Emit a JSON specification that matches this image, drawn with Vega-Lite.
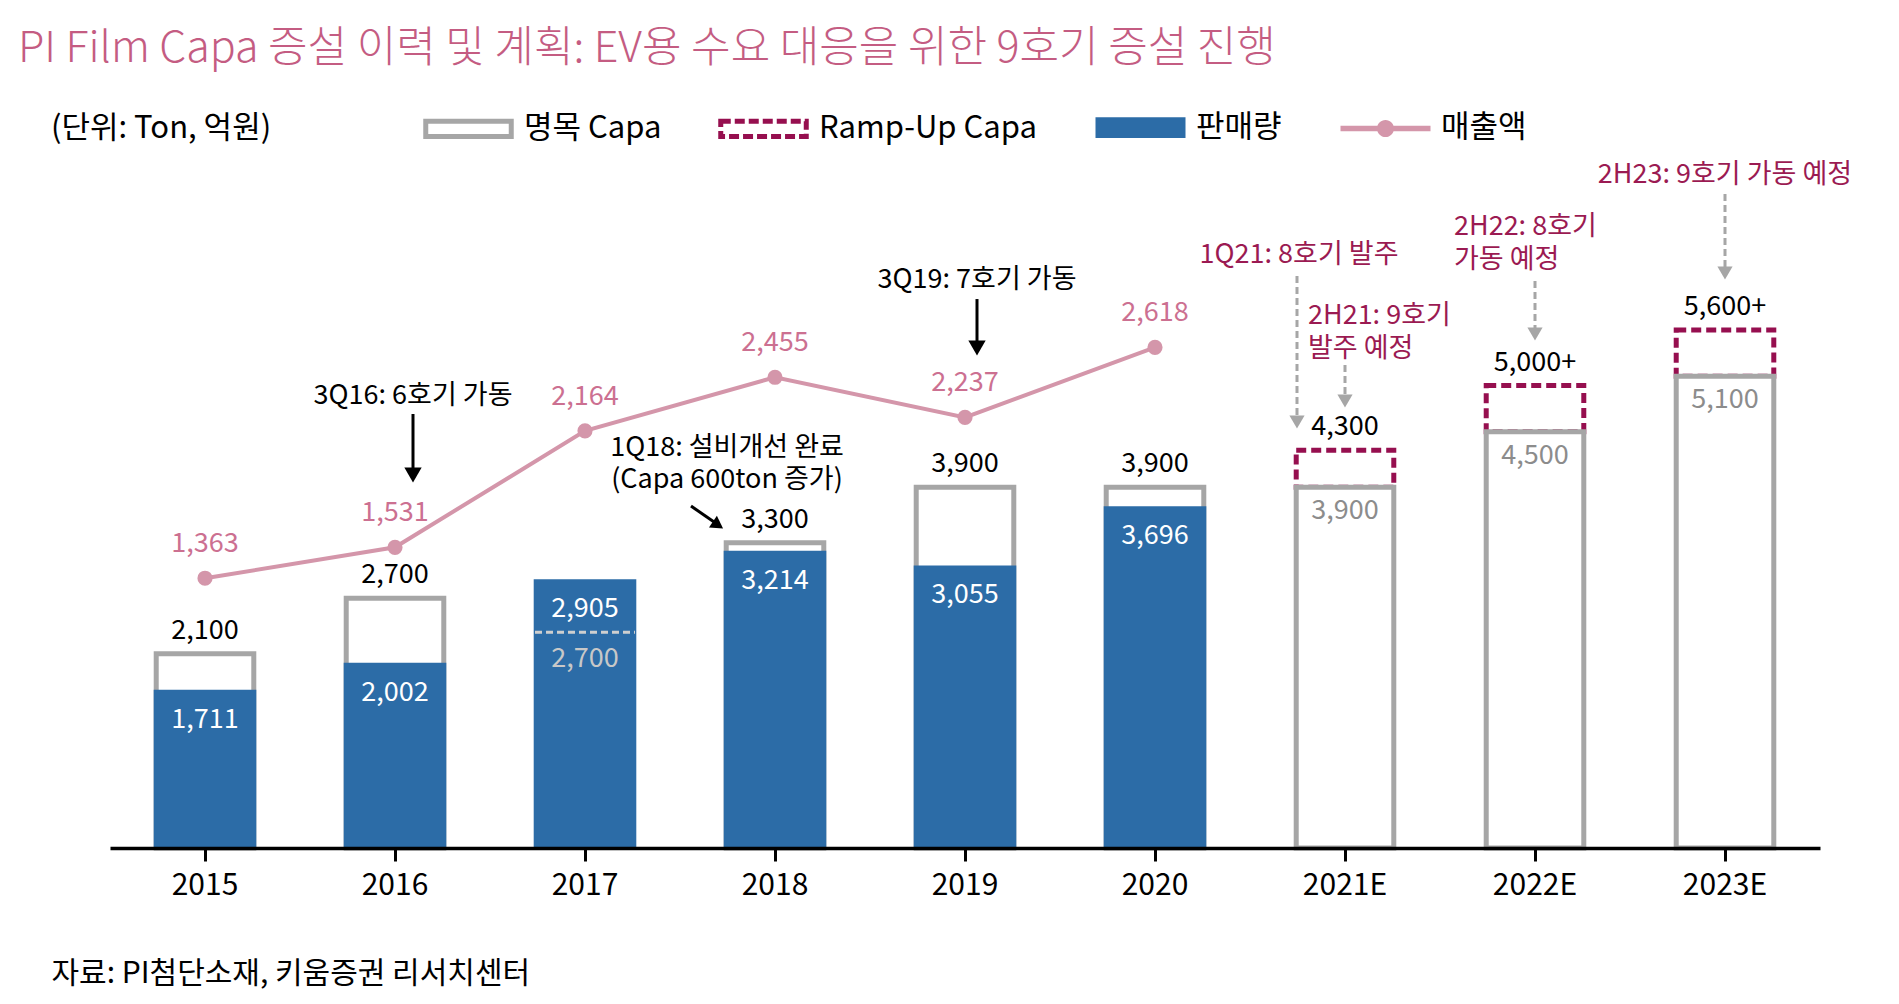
{
  "$schema": "https://vega.github.io/schema/vega-lite/v6.json",
  "width": 1710,
  "height": 700,
  "autosize": {"type": "none"},
  "padding": {"left": 110, "top": 148, "right": 79, "bottom": 156},
  "background": "white",
  "title": {
    "text": "PI Film Capa 증설 이력 및 계획: EV용 수요 대응을 위한 9호기 증설 진행",
    "anchor": "start",
    "frame": "group",
    "dx": -92,
    "offset": 9,
    "fontSize": 43,
    "fontWeight": 300,
    "color": "#c45c82"
  },
  "datasets": {
    "years": [
      {"year": "2015", "capa": 2100, "sales": 1711, "revenue": 1363},
      {"year": "2016", "capa": 2700, "sales": 2002, "revenue": 1531},
      {"year": "2017", "capa": 2700, "sales": 2905, "revenue": 2164},
      {"year": "2018", "capa": 3300, "sales": 3214, "revenue": 2455},
      {"year": "2019", "capa": 3900, "sales": 3055, "revenue": 2237},
      {"year": "2020", "capa": 3900, "sales": 3696, "revenue": 2618},
      {"year": "2021E", "capa": 3900, "ramp": 4300, "rampLabel": "4,300"},
      {"year": "2022E", "capa": 4500, "ramp": 5000, "rampLabel": "5,000+"},
      {"year": "2023E", "capa": 5100, "ramp": 5600, "rampLabel": "5,600+"}
    ]
  },
  "data": {"name": "years"},
  "encoding": {
    "x": {
      "field": "year",
      "type": "nominal",
      "scale": {
        "domain": ["2015", "2016", "2017", "2018", "2019", "2020", "2021E", "2022E", "2023E"],
        "paddingInner": 0.46,
        "paddingOuter": 0.23
      },
      "axis": {
        "title": "자료: PI첨단소재, 키움증권 리서치센터",
        "titleX": -59,
        "titleY": 125,
        "titleAlign": "left",
        "titleBaseline": "middle",
        "titleFontSize": 30,
        "titleFontWeight": "normal",
        "titleColor": "black",
        "labelAngle": 0,
        "labelFontSize": 30,
        "labelColor": "black",
        "labelPadding": 24,
        "labelBaseline": "middle",
        "domainColor": "black",
        "domainWidth": 3.5,
        "tickColor": "black",
        "tickWidth": 3,
        "tickSize": 13,
        "grid": false,
        "zindex": 1
      }
    }
  },
  "layer": [
    {
      "layer": [
        {
          "transform": [{"filter": "datum.ramp != null"}],
          "mark": {"type": "bar", "fill": "transparent", "stroke": "#960f4f", "strokeWidth": 5, "strokeDash": [10, 5], "width": {"band": 0.951}},
          "encoding": {
            "y": {"field": "ramp", "type": "quantitative", "scale": {"domain": [0, 7568], "nice": false}, "axis": null},
            "y2": {"field": "capa"}
          }
        },
        {
          "transform": [{"filter": "datum.sales == null || datum.capa >= datum.sales"}],
          "mark": {"type": "bar", "fill": "white", "stroke": "#a6a6a6", "strokeWidth": 5, "width": {"band": 0.951}},
          "encoding": {
            "y": {"field": "capa", "type": "quantitative", "scale": {"domain": [0, 7568], "nice": false}, "axis": null}
          }
        },
        {
          "transform": [{"filter": "datum.sales != null"}],
          "mark": {"type": "bar"},
          "encoding": {
            "y": {"field": "sales", "type": "quantitative", "scale": {"domain": [0, 7568], "nice": false}, "axis": null},
            "color": {
              "datum": "판매량",
              "type": "nominal",
              "scale": {
                "domain": ["명목 Capa", "Ramp-Up Capa", "판매량", "매출액"],
                "range": ["#a6a6a6", "#960f4f", "#2c6ca7", "#d496aa"]
              },
              "legend": {
                "orient": "none",
                "legendX": -59,
                "legendY": -68,
                "direction": "horizontal",
                "title": "(단위: Ton, 억원)",
                "titleOrient": "left",
                "titleFontSize": 31,
                "titleFontWeight": "normal",
                "titleColor": "black",
                "titlePadding": 149,
                "titleLimit": 400,
                "labelFontSize": 31,
                "labelColor": "black",
                "labelLimit": 400,
                "labelOffset": 8,
                "columnPadding": 48,
                "symbolSize": 8100,
                "symbolType": "M-1,-0.23H1V0.23H-1Z",
                "encode": {
                  "title": {
                    "update": {"dy": {"value": 15}}
                  },
                  "symbols": {
                    "update": {
                      "shape": [
                        {"test": "datum.value === '매출액'", "value": "M-1,-0.06H1V0.06H-1Z M0.19,0A0.19,0.19 0 1,1 -0.19,0A0.19,0.19 0 1,1 0.19,0Z"},
                        {"test": "datum.value === '판매량'", "value": "M-1,-0.23H1V0.23H-1Z"},
                        {"value": "M-0.95,-0.17H0.95V0.17H-0.95Z"}
                      ],
                      "fill": [
                        {"test": "datum.value === '판매량'", "value": "#2c6ca7"},
                        {"test": "datum.value === '매출액'", "value": "#d496aa"},
                        {"value": "transparent"}
                      ],
                      "fillOpacity": [
                        {"test": "datum.value === '명목 Capa' || datum.value === 'Ramp-Up Capa'", "value": 0},
                        {"value": 1}
                      ],
                      "stroke": [
                        {"test": "datum.value === '명목 Capa'", "value": "#a6a6a6"},
                        {"test": "datum.value === 'Ramp-Up Capa'", "value": "#960f4f"},
                        {"value": "transparent"}
                      ],
                      "strokeWidth": {"value": 5},
                      "strokeDash": [
                        {"test": "datum.value === 'Ramp-Up Capa'", "value": [10, 4]},
                        {"value": []}
                      ],
                      "opacity": {"value": 1}
                    }
                  }
                }
              }
            }
          }
        },
        {
          "transform": [{"filter": "datum.sales != null && datum.capa < datum.sales"}],
          "mark": {"type": "rule", "xOffset": -50, "x2Offset": 50, "yOffset": 34, "stroke": "#cfcfcf", "strokeWidth": 3, "strokeDash": [7, 4]},
          "encoding": {
            "x2": {"field": "year"},
            "y": {"field": "capa", "type": "quantitative", "scale": {"domain": [0, 7568], "nice": false}, "axis": null}
          }
        },
        {
          "transform": [{"filter": "datum.ramp == null && datum.capa >= datum.sales"}],
          "mark": {"type": "text", "fontSize": 27, "color": "black", "dy": -23, "baseline": "middle"},
          "encoding": {
            "y": {"field": "capa", "type": "quantitative", "scale": {"domain": [0, 7568], "nice": false}, "axis": null},
            "text": {"field": "capa", "type": "quantitative", "format": ","}
          }
        },
        {
          "transform": [{"filter": "datum.ramp != null"}],
          "mark": {"type": "text", "fontSize": 27, "color": "black", "dy": -23, "baseline": "middle"},
          "encoding": {
            "y": {"field": "ramp", "type": "quantitative", "scale": {"domain": [0, 7568], "nice": false}, "axis": null},
            "text": {"field": "rampLabel", "type": "nominal"}
          }
        },
        {
          "transform": [{"filter": "datum.sales != null"}],
          "mark": {"type": "text", "fontSize": 27, "color": "white", "dy": 30, "baseline": "middle"},
          "encoding": {
            "y": {"field": "sales", "type": "quantitative", "scale": {"domain": [0, 7568], "nice": false}, "axis": null},
            "text": {"field": "sales", "type": "quantitative", "format": ","}
          }
        },
        {
          "transform": [{"filter": "datum.ramp != null"}],
          "mark": {"type": "text", "fontSize": 27, "color": "#8c8c8c", "dy": 24, "baseline": "middle"},
          "encoding": {
            "y": {"field": "capa", "type": "quantitative", "scale": {"domain": [0, 7568], "nice": false}, "axis": null},
            "text": {"field": "capa", "type": "quantitative", "format": ","}
          }
        },
        {
          "transform": [{"filter": "datum.sales != null && datum.capa < datum.sales"}],
          "mark": {"type": "text", "fontSize": 27, "color": "#c8c8c8", "dy": 61, "baseline": "middle"},
          "encoding": {
            "y": {"field": "capa", "type": "quantitative", "scale": {"domain": [0, 7568], "nice": false}, "axis": null},
            "text": {"field": "capa", "type": "quantitative", "format": ","}
          }
        },
        {
          "data": {"values": [{"year": "2016", "note": "3Q16: 6호기 가동", "at": 4886, "from": 4692, "to": 3935}]},
          "layer": [
            {
              "mark": {"type": "text", "fontSize": 27, "color": "black", "dx": 18, "baseline": "middle"},
              "encoding": {
                "y": {"field": "at", "type": "quantitative", "scale": {"domain": [0, 7568], "nice": false}, "axis": null},
                "text": {"field": "note"}
              }
            },
            {
              "mark": {"type": "rule", "color": "black", "strokeWidth": 3, "xOffset": 18, "y2Offset": -10},
              "encoding": {
                "y": {"field": "from", "type": "quantitative", "scale": {"domain": [0, 7568], "nice": false}, "axis": null},
                "y2": {"field": "to"}
              }
            },
            {
              "mark": {"type": "point", "shape": "triangle-down", "filled": true, "color": "black", "opacity": 1, "size": 300, "xOffset": 18, "yOffset": -9},
              "encoding": {
                "y": {"field": "to", "type": "quantitative", "scale": {"domain": [0, 7568], "nice": false}, "axis": null}
              }
            }
          ]
        },
        {
          "data": {"values": [{"year": "2019", "note": "3Q19: 7호기 가동", "at": 6141, "from": 5935, "to": 5308}]},
          "layer": [
            {
              "mark": {"type": "text", "fontSize": 27, "color": "black", "dx": 12, "baseline": "middle"},
              "encoding": {
                "y": {"field": "at", "type": "quantitative", "scale": {"domain": [0, 7568], "nice": false}, "axis": null},
                "text": {"field": "note"}
              }
            },
            {
              "mark": {"type": "rule", "color": "black", "strokeWidth": 3, "xOffset": 12, "y2Offset": -10},
              "encoding": {
                "y": {"field": "from", "type": "quantitative", "scale": {"domain": [0, 7568], "nice": false}, "axis": null},
                "y2": {"field": "to"}
              }
            },
            {
              "mark": {"type": "point", "shape": "triangle-down", "filled": true, "color": "black", "opacity": 1, "size": 300, "xOffset": 12, "yOffset": -9},
              "encoding": {
                "y": {"field": "to", "type": "quantitative", "scale": {"domain": [0, 7568], "nice": false}, "axis": null}
              }
            }
          ]
        },
        {
          "data": {"values": [{"year": "2018", "note": "1Q18: 설비개선 완료\n(Capa 600ton 증가)", "at": 4324, "from": 3697, "to": 3503, "head": 3492}]},
          "layer": [
            {
              "mark": {"type": "text", "fontSize": 27, "color": "black", "dx": -48, "baseline": "middle", "lineBreak": "\n", "lineHeight": 32},
              "encoding": {
                "y": {"field": "at", "type": "quantitative", "scale": {"domain": [0, 7568], "nice": false}, "axis": null},
                "text": {"field": "note"}
              }
            },
            {
              "mark": {"type": "rule", "color": "black", "strokeWidth": 3, "xOffset": -84, "x2Offset": -58},
              "encoding": {
                "x2": {"field": "year"},
                "y": {"field": "from", "type": "quantitative", "scale": {"domain": [0, 7568], "nice": false}, "axis": null},
                "y2": {"field": "to"}
              }
            },
            {
              "mark": {"type": "point", "shape": "triangle-right", "angle": 34, "filled": true, "color": "black", "opacity": 1, "size": 200, "xOffset": -57},
              "encoding": {
                "y": {"field": "head", "type": "quantitative", "scale": {"domain": [0, 7568], "nice": false}, "axis": null}
              }
            }
          ]
        },
        {
          "data": {"values": [{"year": "2021E", "note": "1Q21: 8호기 발주", "at": 6411, "from": 6184, "to": 4519}]},
          "layer": [
            {
              "mark": {"type": "text", "fontSize": 27, "color": "#9b1a52", "dx": -46, "baseline": "middle"},
              "encoding": {
                "y": {"field": "at", "type": "quantitative", "scale": {"domain": [0, 7568], "nice": false}, "axis": null},
                "text": {"field": "note"}
              }
            },
            {
              "mark": {"type": "rule", "color": "#a6a6a6", "strokeWidth": 3, "strokeDash": [7, 4], "xOffset": -48, "y2Offset": -10},
              "encoding": {
                "y": {"field": "from", "type": "quantitative", "scale": {"domain": [0, 7568], "nice": false}, "axis": null},
                "y2": {"field": "to"}
              }
            },
            {
              "mark": {"type": "point", "shape": "triangle-down", "filled": true, "color": "#a6a6a6", "opacity": 1, "size": 230, "xOffset": -48, "yOffset": -8},
              "encoding": {
                "y": {"field": "to", "type": "quantitative", "scale": {"domain": [0, 7568], "nice": false}, "axis": null}
              }
            }
          ]
        },
        {
          "data": {"values": [{"year": "2021E", "note": "2H21: 9호기\n발주 예정", "at": 5751, "from": 5222, "to": 4746}]},
          "layer": [
            {
              "mark": {"type": "text", "fontSize": 27, "color": "#9b1a52", "dx": -37, "align": "left", "baseline": "middle", "lineBreak": "\n", "lineHeight": 33},
              "encoding": {
                "y": {"field": "at", "type": "quantitative", "scale": {"domain": [0, 7568], "nice": false}, "axis": null},
                "text": {"field": "note"}
              }
            },
            {
              "mark": {"type": "rule", "color": "#a6a6a6", "strokeWidth": 3, "strokeDash": [7, 4], "y2Offset": -10},
              "encoding": {
                "y": {"field": "from", "type": "quantitative", "scale": {"domain": [0, 7568], "nice": false}, "axis": null},
                "y2": {"field": "to"}
              }
            },
            {
              "mark": {"type": "point", "shape": "triangle-down", "filled": true, "color": "#a6a6a6", "opacity": 1, "size": 230, "yOffset": -8},
              "encoding": {
                "y": {"field": "to", "type": "quantitative", "scale": {"domain": [0, 7568], "nice": false}, "axis": null}
              }
            }
          ]
        },
        {
          "data": {"values": [{"year": "2022E", "note": "2H22: 8호기\n가동 예정", "at": 6714, "from": 6130, "to": 5470}]},
          "layer": [
            {
              "mark": {"type": "text", "fontSize": 27, "color": "#9b1a52", "dx": -81, "align": "left", "baseline": "middle", "lineBreak": "\n", "lineHeight": 33},
              "encoding": {
                "y": {"field": "at", "type": "quantitative", "scale": {"domain": [0, 7568], "nice": false}, "axis": null},
                "text": {"field": "note"}
              }
            },
            {
              "mark": {"type": "rule", "color": "#a6a6a6", "strokeWidth": 3, "strokeDash": [7, 4], "y2Offset": -10},
              "encoding": {
                "y": {"field": "from", "type": "quantitative", "scale": {"domain": [0, 7568], "nice": false}, "axis": null},
                "y2": {"field": "to"}
              }
            },
            {
              "mark": {"type": "point", "shape": "triangle-down", "filled": true, "color": "#a6a6a6", "opacity": 1, "size": 230, "yOffset": -8},
              "encoding": {
                "y": {"field": "to", "type": "quantitative", "scale": {"domain": [0, 7568], "nice": false}, "axis": null}
              }
            }
          ]
        },
        {
          "data": {"values": [{"year": "2023E", "note": "2H23: 9호기 가동 예정", "at": 7276, "from": 7070, "to": 6130}]},
          "layer": [
            {
              "mark": {"type": "text", "fontSize": 27, "color": "#9b1a52", "baseline": "middle"},
              "encoding": {
                "y": {"field": "at", "type": "quantitative", "scale": {"domain": [0, 7568], "nice": false}, "axis": null},
                "text": {"field": "note"}
              }
            },
            {
              "mark": {"type": "rule", "color": "#a6a6a6", "strokeWidth": 3, "strokeDash": [7, 4], "y2Offset": -10},
              "encoding": {
                "y": {"field": "from", "type": "quantitative", "scale": {"domain": [0, 7568], "nice": false}, "axis": null},
                "y2": {"field": "to"}
              }
            },
            {
              "mark": {"type": "point", "shape": "triangle-down", "filled": true, "color": "#a6a6a6", "opacity": 1, "size": 230, "yOffset": -8},
              "encoding": {
                "y": {"field": "to", "type": "quantitative", "scale": {"domain": [0, 7568], "nice": false}, "axis": null}
              }
            }
          ]
        }
      ]
    },
    {
      "transform": [{"filter": "datum.revenue != null"}],
      "layer": [
        {
          "mark": {"type": "line", "color": "#d496aa", "strokeWidth": 4},
          "encoding": {
            "y": {"field": "revenue", "type": "quantitative", "scale": {"domain": [-103, 3701], "nice": false, "zero": false}, "axis": null}
          }
        },
        {
          "mark": {"type": "point", "filled": true, "color": "#d496aa", "opacity": 1, "size": 230},
          "encoding": {
            "y": {"field": "revenue", "type": "quantitative", "scale": {"domain": [-103, 3701], "nice": false, "zero": false}, "axis": null}
          }
        },
        {
          "mark": {"type": "text", "fontSize": 27, "color": "#cc7091", "dy": -34, "baseline": "middle"},
          "encoding": {
            "y": {"field": "revenue", "type": "quantitative", "scale": {"domain": [-103, 3701], "nice": false, "zero": false}, "axis": null},
            "text": {"field": "revenue", "type": "quantitative", "format": ","}
          }
        }
      ]
    }
  ],
  "resolve": {"scale": {"y": "independent"}},
  "config": {
    "font": "Noto Sans CJK KR",
    "view": {"stroke": null}
  }
}
